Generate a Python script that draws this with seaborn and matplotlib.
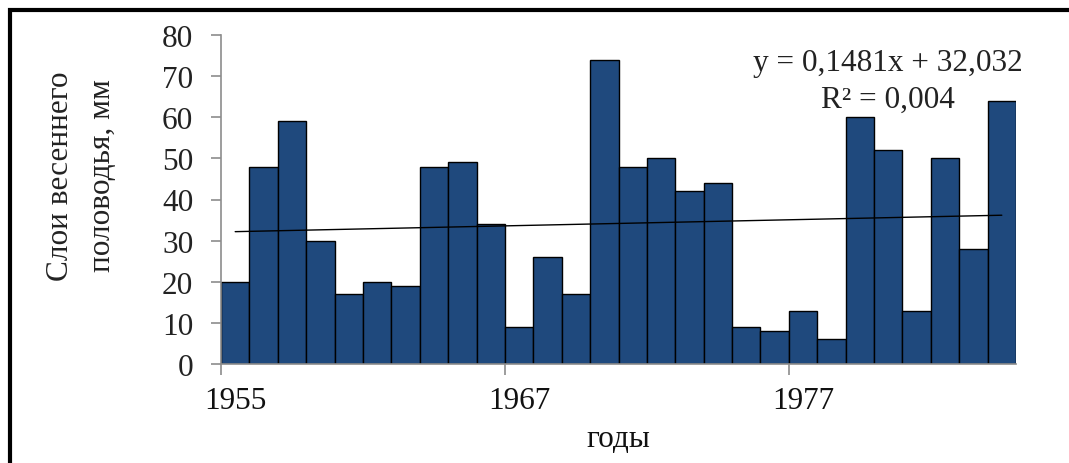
import matplotlib
matplotlib.use("Agg")
import matplotlib.pyplot as plt
import seaborn as sns
import numpy as np
from matplotlib.patches import Rectangle

# ---- data ----
bar_index = list(range(1, 29))  # Excel-style x used in the trend equation
values = [20, 48, 59, 30, 17, 20, 19, 48, 49, 34, 9, 26, 17, 74,
          48, 50, 42, 44, 9, 8, 13, 6, 60, 52, 13, 50, 28, 64]
tick_labels = ["1955", "1967", "1977"]
tick_at_index = [1, 11, 21]
trend_slope = 0.1481
trend_intercept = 32.032
equation_text = "y = 0,1481x + 32,032"
r2_text = "R\u00b2 = 0,004"
y_ticks = [0, 10, 20, 30, 40, 50, 60, 70, 80]
ylabel_lines = ["Слои весеннего", "половодья, мм"]
xlabel = "годы"

sns.set_theme(style="white")
plt.rcParams["font.family"] = ["Liberation Serif", "DejaVu Serif"]

W, H = 1069, 464
fig = plt.figure(figsize=(W / 100, H / 100), dpi=100)
ax = fig.add_axes([221 / W, 1 - 365 / H, (1016 - 221) / W, (365 - 36) / H])

bar_color = "#1F497D"
sns.barplot(x=bar_index, y=values, color=bar_color, width=1.0,
            edgecolor="black", linewidth=1.0, saturation=1, ax=ax)

# trend line from the equation
xs = np.array(bar_index)
trend = trend_slope * xs + trend_intercept
ax.plot(xs - 1, trend, color="black", linewidth=1.0)

ax.set_xlim(-0.5, len(values) - 0.5)
ax.set_ylim(0, 80)
ax.set_yticks(y_ticks)
ax.set_yticklabels([str(t) for t in y_ticks])

# major ticks at bar edges (no labels), minor ticks at bar centres (labels)
pos = [i - 1 for i in tick_at_index]
ax.set_xticks([p - 0.5 for p in pos])
ax.set_xticklabels([""] * len(pos))
ax.set_xticks(pos, minor=True)
ax.set_xticklabels(tick_labels, minor=True)

gray = "#8C8C8C"
for s in ["top", "right"]:
    ax.spines[s].set_visible(False)
for s in ["left", "bottom"]:
    ax.spines[s].set_color(gray)
    ax.spines[s].set_linewidth(1.2)

fs = 22.5
ax.tick_params(axis="y", which="major", direction="out", length=7, width=1.2,
               color=gray, labelsize=fs, pad=13, left=True, labelcolor="#222222")
ax.tick_params(axis="x", which="major", direction="out", length=8, width=1.2,
               color=gray, bottom=True)
ax.tick_params(axis="x", which="minor", length=0, labelsize=fs, pad=16,
               bottom=True, labelcolor="#111111")
ax.set_xlabel("")
ax.set_ylabel("")
ax.grid(False)

# equation text
ax.text(888 / W, 1 - 64 / H, equation_text, transform=fig.transFigure,
        ha="center", va="center", fontsize=fs, color="#222222")
ax.text(888 / W, 1 - 100 / H, r2_text, transform=fig.transFigure,
        ha="center", va="center", fontsize=fs, color="#222222")

# axis titles
fig.text(60 / W, 1 - 176 / H, ylabel_lines[0], rotation=90, ha="center",
         va="center", fontsize=fs, color="#222222")
fig.text(102 / W, 1 - 176 / H, ylabel_lines[1], rotation=90, ha="center",
         va="center", fontsize=fs, color="#222222")
fig.text(618 / W, 1 - 440 / H, xlabel, ha="center", va="center",
         fontsize=fs, color="#111111")

# outer frame (only left and top edges visible in the crop)
fig.patches.append(Rectangle((10 / W, -0.2), 1.2, 1.2 - 11 / H + 0.0,
                             transform=fig.transFigure, fill=False,
                             edgecolor="black", linewidth=3))

fig.savefig("out.png", dpi=100)
